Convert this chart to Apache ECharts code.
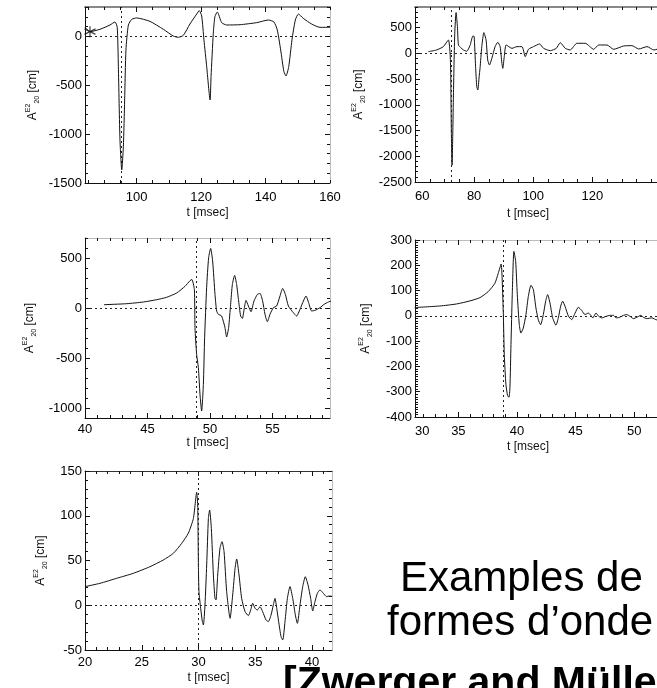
<!DOCTYPE html>
<html>
<head>
<meta charset="utf-8">
<script src="https://cdn.jsdelivr.net/npm/echarts@6/dist/echarts.min.js"></script>
<style>
  html, body { margin: 0; padding: 0; background: #fff; }
  #chart { width: 657px; height: 688px; }
</style>
</head>
<body>
<div id="chart"></div>
<script>
// waveforms A20^E2 [cm] against t [msec]
const wave1 = [[84.0,92],[85.55,48],[88.65,72],[91.75,116],[93.3,147],[94.0,92],[94.35,-310],[94.85,-1060],[95.4,-1367],[95.9,-1128],[96.3,-651],[96.7,-140],[97.45,116],[98.5,174],[100.0,188],[104.15,153],[108.3,72],[111.4,3],[112.95,-10],[114.5,10],[116.55,126],[118.65,228],[119.45,263],[120.2,208],[120.9,-37],[121.75,-310],[122.8,-651],[123.1,-412],[123.8,31],[124.3,201],[125.05,249],[126.4,140],[127.95,116],[132.1,119],[137.25,140],[140.9,167],[142.6,147],[143.65,65],[144.7,-140],[145.7,-361],[146.35,-405],[147.2,-310],[148.2,-37],[149.25,167],[150.2,228],[151.7,184],[154.3,126],[156.9,92],[160.0,92]];
const wave2 = [[64.5,32],[67.3,65],[69.6,130],[71.3,259],[71.9,-32],[72.1,-454],[72.3,-1556],[72.55,-2172],[72.8,-1500],[73.0,-811],[73.45,389],[73.9,791],[74.35,519],[74.7,160],[75.5,110],[76.4,65],[77.5,40],[78.6,150],[79.6,337],[80.0,330],[80.5,-259],[80.9,-648],[81.25,-713],[81.7,-454],[82.0,-292],[82.6,130],[83.3,402],[84.05,259],[84.6,-130],[85.2,-227],[86.0,-97],[87.1,130],[88.0,214],[88.8,130],[89.4,-195],[89.7,-292],[90.2,-65],[90.85,162],[92.8,97],[94.5,130],[96.2,130],[97.3,-65],[98.4,78],[100.1,130],[102.15,182],[103.5,97],[105.75,52],[107.8,97],[109.15,207],[110.85,97],[112.5,65],[114.8,195],[117.6,195],[120.45,78],[122.15,162],[124.95,162],[127.2,78],[130.6,143],[133.4,149],[135.7,84],[138.5,130],[140.8,65],[143.05,97],[146.0,120]];
const wave3 = [[41.52,33],[43.33,43],[44.67,60],[45.73,83],[46.53,107],[47.33,150],[48.0,217],[48.4,273],[48.55,285],[48.75,183],[48.8,-197],[48.93,-464],[49.07,-597],[49.2,-864],[49.33,-1030],[49.47,-764],[49.57,-297],[49.73,203],[49.89,503],[50.05,596],[50.21,470],[50.4,136],[50.53,-30],[50.67,-63],[50.93,-80],[51.2,-197],[51.33,-290],[51.49,-197],[51.65,36],[51.79,236],[51.97,326],[52.13,236],[52.29,70],[52.45,-80],[52.59,-104],[52.75,3],[52.88,76],[53.07,20],[53.28,-37],[53.52,70],[53.79,136],[54.0,146],[54.21,70],[54.4,-63],[54.59,-137],[54.8,-63],[55.07,3],[55.33,20],[55.6,120],[55.81,196],[56.03,136],[56.27,20],[56.67,-47],[56.93,-80],[57.2,-13],[57.47,70],[57.68,120],[57.89,53],[58.13,-30],[58.4,-23],[58.8,3],[59.12,36],[59.47,60],[59.7,70]];
const wave4 = [[31.28,33],[33.42,39],[34.84,47],[35.98,59],[36.84,72],[37.55,96],[38.12,129],[38.4,168],[38.65,205],[38.83,18],[38.92,-153],[39.06,-272],[39.2,-315],[39.32,-322],[39.4,-285],[39.49,-114],[39.6,84],[39.74,255],[39.89,216],[40.03,84],[40.2,-35],[40.34,-68],[40.54,-48],[40.77,5],[40.97,77],[41.2,121],[41.4,104],[41.62,31],[41.82,-15],[42.02,-35],[42.25,5],[42.45,58],[42.62,84],[42.82,51],[43.05,-8],[43.33,-37],[43.53,-8],[43.73,38],[43.9,58],[44.1,38],[44.39,-1],[44.67,-15],[44.96,11],[45.24,34],[45.53,21],[45.81,5],[46.1,11],[46.3,2],[46.47,-8],[46.75,11],[46.98,-2],[47.24,-8],[47.61,-2],[47.95,2],[48.23,2],[48.46,-8],[48.75,-6],[49.09,2],[49.37,5],[49.66,-2],[49.94,-11],[50.23,-6],[50.57,2],[50.8,-6],[51.08,-11],[51.51,-8],[51.94,-16],[52.4,-14]];
const wave5 = [[20.0,20.8],[21.32,24.5],[22.79,30.1],[24.26,35.7],[25.73,43.1],[26.9,50.6],[27.78,58],[28.52,69.2],[29.1,80.4],[29.55,97.1],[29.84,126.2],[29.93,112],[29.99,45],[30.04,15.2],[30.19,-3.4],[30.34,-18.3],[30.43,-22],[30.57,0.3],[30.72,45],[30.87,97],[30.98,106.4],[31.13,86],[31.31,33.8],[31.45,7.7],[31.54,5.9],[31.69,33.8],[31.89,63.6],[32.07,71],[32.25,59.9],[32.48,15.2],[32.78,-14.6],[33.01,11.5],[33.22,41.3],[33.36,51.7],[33.57,33.8],[33.8,7.7],[34.1,-7.2],[34.39,-11.6],[34.6,-5.3],[34.77,2.2],[34.98,-3.4],[35.18,-5.3],[35.42,-1.6],[35.65,-7.2],[35.95,-16.5],[36.15,-18.3],[36.39,-10.9],[36.59,0.3],[36.74,7.7],[36.89,-3.4],[37.06,-18.3],[37.27,-35.1],[37.42,-38.8],[37.62,-18.3],[37.83,7.7],[38.06,20.8],[38.3,7.7],[38.53,-10.9],[38.71,-20.2],[38.94,0.3],[39.18,20.8],[39.41,31.9],[39.65,22.6],[39.88,7.7],[40.06,-6.4],[40.26,4],[40.47,13.3],[40.7,17.1],[41.0,13.3],[41.29,9.6],[41.5,10.3],[41.76,10]];

const starPoint = [[85.55, 48]];
const bounceTimes = [95.3, 72.1, 48.88, 38.83, 30.0];

// tick labels
const xTicks = [[100,120,140,160],[60,80,100,120],[40,45,50,55],[31.3,35,40,45,50],[20,25,30,35,40]];
const xTickText4 = ['30','35','40','45','50'];
const yTicks = [[-1500,-1000,-500,0],[-2500,-2000,-1500,-1000,-500,0,500],[-1000,-500,0,500],[-400,-300,-200,-100,0,100,200,300],[-50,0,50,100,150]];
const xMinorStep = [5,5,1,1,1];
const yMinorStep = [100,100,100,10,10];

const FONT = '"Liberation Sans",Arial,sans-serif';

// layout of the five boxes
const layout = [
  { grid:{left:85,top:7,width:245,height:176},  x:[84,160],   y:[-1500,300],  topLine:{color:'#888',width:2}, labelMarginX:8, nameGapX:24, nameGapY:44, alignMin:null },
  { grid:{left:415,top:7,width:266,height:175}, x:[60,150],   y:[-2500,900],  topLine:{color:'#888',width:2}, labelMarginX:8, nameGapY:48, nameGapX:26, alignMin:'left', namePad:[0,40,0,0] },
  { grid:{left:85,top:238,width:245,height:180},x:[40,59.6],  y:[-1100,700],  topLine:{color:'#bbb',width:1}, labelMarginX:5, nameGapX:19, nameGapY:47, alignMin:null },
  { grid:{left:415,top:240,width:266,height:177},x:[31.3,54], y:[-400,300],   topLine:{color:'#bbb',width:1}, labelMarginX:8, nameGapX:24, nameGapY:41, alignMin:'left', namePad:[0,40,0,0] },
  { grid:{left:85,top:471,width:247,height:179},x:[20,41.76], y:[-50,150],    topLine:{color:'#333',width:1}, labelMarginX:6, nameGapX:22, nameGapY:36, alignMin:null }
];
const waves = [wave1, wave2, wave3, wave4, wave5];

function ticksBetween(lo, hi, step) {
  const out = [];
  for (let v = Math.ceil(lo / step - 1e-9) * step; v <= hi + 1e-9; v += step) out.push(+v.toFixed(4));
  return out;
}

const yName = '{a|A}{s|E2}{b|20}{a| [cm]}';
const yNameRich = {
  a: { fontSize: 12, fontFamily: FONT, color: '#111', lineHeight: 16 },
  s: { fontSize: 7, fontFamily: FONT, color: '#111', lineHeight: 8, verticalAlign: 'top' },
  b: { fontSize: 7, fontFamily: FONT, color: '#111', lineHeight: 8, verticalAlign: 'bottom' }
};

const grids = [], xAxes = [], yAxes = [], series = [];

layout.forEach((p, i) => {
  grids.push(Object.assign({ containLabel: false, outerBoundsMode: 'none' }, p.grid));
  const xMin = ticksBetween(p.x[0], p.x[1], xMinorStep[i]);
  const yMin = ticksBetween(p.y[0], p.y[1], yMinorStep[i]);
  const base = { type: 'value', gridIndex: i, min: p.x[0], max: p.x[1], splitLine: { show: false } };
  const tick = (vals, len) => ({ show: true, inside: true, length: len, customValues: vals, lineStyle: { color: '#111', width: 1 } });
  const xMajorTicks = xTicks[i].filter(v => v > p.x[0] + 1e-6 && v < p.x[1] - 1e-6);

  // bottom axis with labels
  xAxes.push(Object.assign({}, base, {
    position: 'bottom',
    axisLine: { show: true, onZero: false, lineStyle: { color: '#111', width: 1 } },
    axisTick: tick(xMajorTicks, 5),
    axisLabel: {
      customValues: xTicks[i], margin: p.labelMarginX, color: '#000', fontSize: 13, fontFamily: FONT,
      alignMinLabel: p.alignMin || undefined,
      formatter: i === 3 ? (v) => xTickText4[xTicks[3].indexOf(v)] : (v) => String(v)
    },
    name: 't [msec]', nameLocation: 'middle', nameGap: p.nameGapX,
    nameTextStyle: { fontSize: 12, fontFamily: FONT, color: '#111', padding: p.namePad || 0 }
  }));
  xAxes.push(Object.assign({}, base, { position: 'bottom', axisLine: { show: false, onZero: false }, axisTick: tick(xMin, 3), axisLabel: { show: false } }));
  xAxes.push(Object.assign({}, base, { position: 'top', axisLine: { show: true, onZero: false, lineStyle: p.topLine }, axisTick: tick(xMajorTicks, 5), axisLabel: { show: false } }));
  xAxes.push(Object.assign({}, base, { position: 'top', axisLine: { show: false, onZero: false }, axisTick: tick(xMin, 3), axisLabel: { show: false } }));

  const yb = { type: 'value', gridIndex: i, min: p.y[0], max: p.y[1], splitLine: { show: false } };
  yAxes.push(Object.assign({}, yb, {
    position: 'left',
    axisLine: { show: true, onZero: false, lineStyle: { color: '#111', width: 1 } },
    axisTick: tick(yTicks[i], 5),
    axisLabel: { customValues: yTicks[i], margin: 3, color: '#000', fontSize: 13, fontFamily: FONT, formatter: (v) => String(v) },
    name: yName, nameLocation: 'middle', nameRotate: 90, nameGap: p.nameGapY,
    nameTextStyle: { rich: yNameRich }
  }));
  yAxes.push(Object.assign({}, yb, { position: 'left', axisLine: { show: false, onZero: false }, axisTick: tick(yMin, 3), axisLabel: { show: false } }));
  yAxes.push(Object.assign({}, yb, { position: 'right', axisLine: { show: true, onZero: false, lineStyle: { color: '#bbb', width: 1 } }, axisTick: tick(yTicks[i], 5), axisLabel: { show: false } }));
  yAxes.push(Object.assign({}, yb, { position: 'right', axisLine: { show: false, onZero: false }, axisTick: tick(yMin, 3), axisLabel: { show: false } }));

  series.push({
    type: 'line', xAxisIndex: 4 * i, yAxisIndex: 4 * i,
    data: waves[i], showSymbol: false, smooth: 0.2,
    lineStyle: { color: '#111', width: 1 },
    markLine: {
      silent: true, symbol: ['none', 'none'], label: { show: false },
      lineStyle: { type: [2, 3], color: '#222', width: 1 },
      data: [{ yAxis: 0 }, { xAxis: bounceTimes[i] }]
    }
  });
});

series.push({
  type: 'scatter', xAxisIndex: 0, yAxisIndex: 0, data: starPoint,
  symbol: 'path://M0,-5L0,5M-4.3,-2.5L4.3,2.5M-4.3,2.5L4.3,-2.5', symbolSize: 11,
  itemStyle: { color: 'none', borderColor: '#111', borderWidth: 1.2 }
});

const chart = echarts.init(document.getElementById('chart'), null, { renderer: 'canvas' });
chart.setOption({
  animation: false,
  backgroundColor: '#fff',
  grid: grids,
  xAxis: xAxes,
  yAxis: yAxes,
  series: series,
  graphic: [
    { type: 'text', left: 400, top: 558, style: { text: 'Examples de', font: '42px "Liberation Sans", Arial, sans-serif', fill: '#000' } },
    { type: 'text', left: 387, top: 602, style: { text: 'formes d\u2019onde', font: '42px "Liberation Sans", Arial, sans-serif', fill: '#000' } },
    { type: 'text', left: 283, top: 663, style: { text: '[Zwerger and M\u00fcller', font: 'bold 41px "Liberation Sans", Arial, sans-serif', fill: '#000' } }
  ]
});
</script>
</body>
</html>
